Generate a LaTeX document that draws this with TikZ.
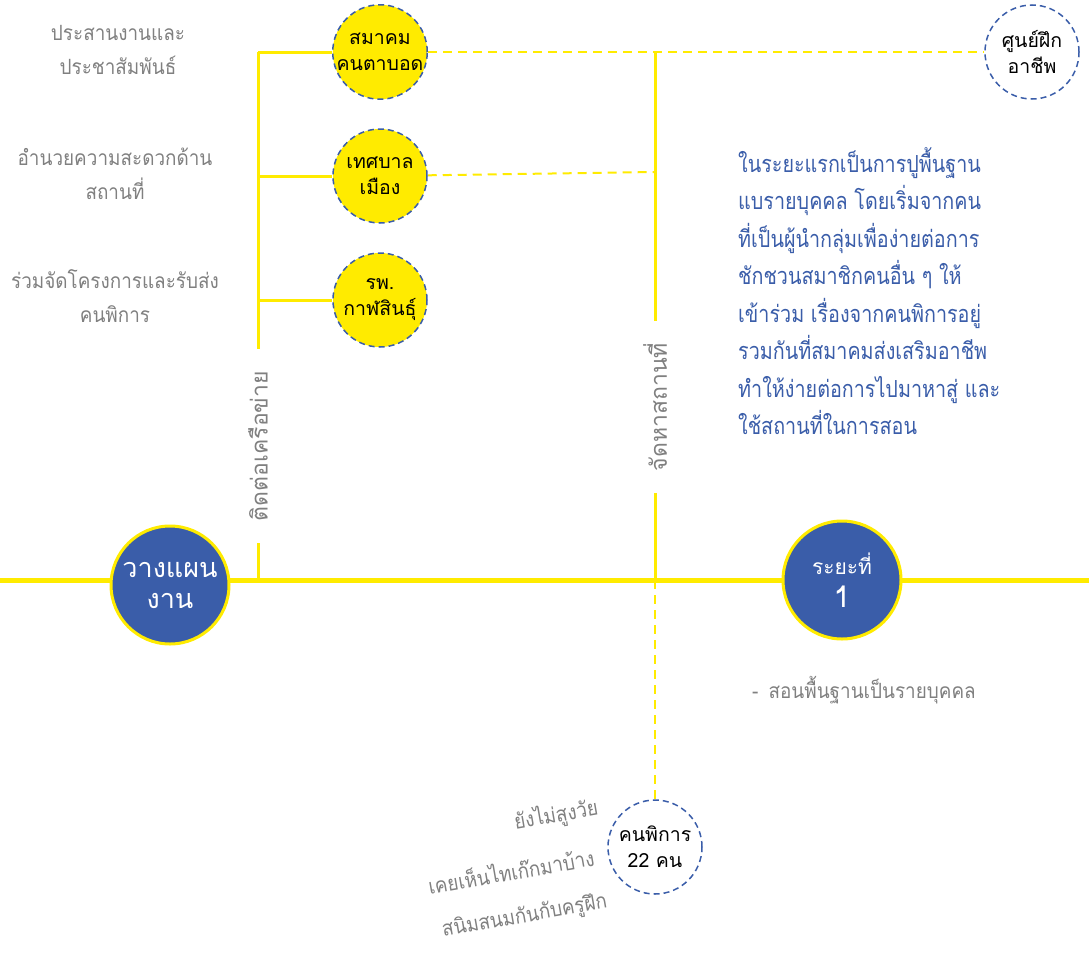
\documentclass[tikz,border=0pt]{standalone}
\usepackage{fontspec}
\setmainfont[Script=Thai]{Loma}
\newfontfamily\narrowthai[Script=Thai, FakeStretch=0.84]{Loma}
\newfontfamily\graythai[Script=Thai, FakeStretch=0.9]{Loma}
\usetikzlibrary{backgrounds}
\definecolor{ylw}{HTML}{FFEB00}
\definecolor{blu}{HTML}{3A5DA9}
\definecolor{gry}{HTML}{808080}
\tikzset{
  bigc/.style={circle, fill=blu, draw=ylw, line width=3pt, minimum size=118pt, inner sep=0pt, text=white, align=center},
  smallc/.style={circle, fill=ylw, draw=blu, dash pattern=on 6pt off 4pt, line width=1.5pt, minimum size=94pt, inner sep=0pt, align=center, font=\fontsize{19.5}{26}\selectfont},
  whitec/.style={smallc, fill=white},
  mainline/.style={draw=ylw, line width=5pt},
  branch/.style={draw=ylw, line width=3pt},
  dline/.style={draw=ylw, line width=2pt, dash pattern=on 9pt off 6pt},
  graytxt/.style={text=gry, align=center, font=\graythai\fontsize{21}{34}\selectfont},
  vtxt/.style={rotate=90, text=gry, fill=white, inner xsep=22pt, inner ysep=2pt, font=\fontsize{23}{26}\selectfont},
  bluetxt/.style={text=blu, align=left, inner sep=0pt, font=\narrowthai\fontsize{23.5}{37.5}\selectfont},
  tilt/.style={text=gry, rotate=10, anchor=east, inner sep=0pt, font=\graythai\fontsize{21}{26}\selectfont}
}
\begin{document}
\begin{tikzpicture}[x=1pt,y=-1pt]
\useasboundingbox (0,0) rectangle (1089,953);
% coordinates
\coordinate (L) at (0,580);
\coordinate (R) at (1089,580);
\coordinate (T1) at (258,52);
\coordinate (T2) at (258,176);
\coordinate (T3) at (258,300);
\coordinate (T4) at (258,580);
\coordinate (V1) at (655,52);
\coordinate (V2) at (655,172);
\coordinate (V4) at (655,580);
% main nodes
\node[bigc, font=\fontsize{27}{31}\selectfont] (plan) at (170,585) {วางแผน\\งาน};
\node[bigc, font=\fontsize{30}{33}\selectfont] (phase) at (842,580) {{\fontsize{21}{26}\selectfont ระยะที่}\\1};
\node[smallc] (assoc) at (380,52) {สมาคม\\คนตาบอด};
\node[smallc] (muni) at (380,176) {เทศบาล\\เมือง};
\node[smallc] (hosp) at (380,300) {รพ.\\กาฬสินธุ์};
\node[whitec] (train) at (1032,52) {ศูนย์ฝึก\\อาชีพ};
\node[whitec] (dis) at (655,847) {คนพิการ\\22 คน};
% connectors on background
\begin{pgfonlayer}{background}
\path[mainline] (L) -- (R);
\path[branch] (T1) -- (T4);
\path[branch] (T1) -- (assoc);
\path[branch] (T2) -- (muni);
\path[branch] (T3) -- (hosp);
\path[dline] (assoc) -- (train);
\path[dline] (muni) -- (V2);
\path[branch] (V1) -- (V4);
\path[dline] (V4) -- (dis);
\end{pgfonlayer}
% vertical labels
\node[vtxt] (net) at (258,446) {ติดต่อเครือข่าย};
\node[vtxt] (place) at (655,407) {จัดหาสถานที่};
% left texts
\node[graytxt] (t1) at (118,50) {ประสานงานและ\\ประชาสัมพันธ์};
\node[graytxt] (t2) at (115,174) {อำนวยความสะดวกด้าน\\สถานที่};
\node[graytxt] (t3) at (115,296) {ร่วมจัดโครงการและรับส่ง\\คนพิการ};
% blue paragraph
\node[bluetxt, anchor=north west] (para) at (738,147) {ในระยะแรกเป็นการปูพื้นฐาน\\แบรายบุคคล โดยเริ่มจากคน\\ที่เป็นผู้นำกลุ่มเพื่อง่ายต่อการ\\ชักชวนสมาชิกคนอื่น ๆ ให้\\เข้าร่วม เรื่องจากคนพิการอยู่\\รวมกันที่สมาคมส่งเสริมอาชีพ\\ทำให้ง่ายต่อการไปมาหาสู่ และ\\ใช้สถานที่ในการสอน};
% phase 1 note
\node[text=gry, anchor=west, inner sep=0pt, font=\graythai\fontsize{21}{26}\selectfont] (note) at (752,690) {-\hspace{10pt}สอนพื้นฐานเป็นรายบุคคล};
% tilted notes
\node[tilt] (n1) at (598,808) {ยังไม่สูงวัย};
\node[tilt] (n2) at (594,856) {เคยเห็นไทเก๊กมาบ้าง};
\node[tilt] (n3) at (607,902) {สนิมสนมกันกับครูฝึก};
\end{tikzpicture}
\end{document}
